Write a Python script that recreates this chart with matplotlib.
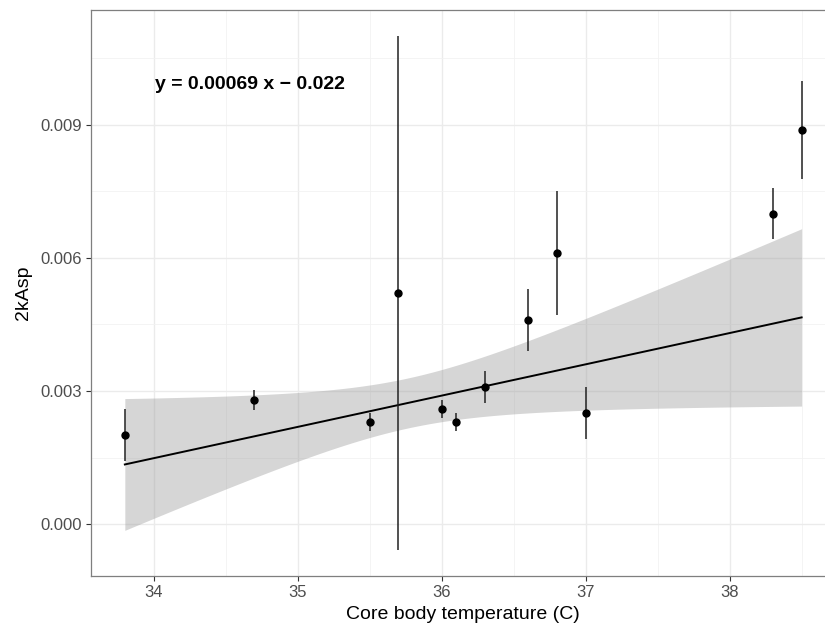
import numpy as np
import matplotlib
matplotlib.use("Agg")
import matplotlib.pyplot as plt
from matplotlib.ticker import MultipleLocator, FixedLocator

plt.rcParams['font.family'] = ['Liberation Sans', 'DejaVu Sans']

# Data
temperature = [33.8, 34.7, 35.5, 35.7, 36.0, 36.1, 36.3, 36.6, 36.8, 37.0, 38.3, 38.5]
k_asp = [0.00201, 0.00280, 0.00230, 0.00521, 0.00259, 0.00230, 0.00309, 0.00460, 0.00611, 0.00250, 0.00700, 0.00889]
k_err = [0.00058, 0.00022, 0.00020, 0.00580, 0.00020, 0.00020, 0.00036, 0.00070, 0.00140, 0.00058, 0.00058, 0.00110]
x_ticks = [34, 35, 36, 37, 38]
y_ticks = [0.000, 0.003, 0.006, 0.009]
y_tick_labels = ["0.000", "0.003", "0.006", "0.009"]
equation = "y = 0.00069 x \u2212 0.022"

x = np.array(temperature)
y = np.array(k_asp)
e = np.array(k_err)

# weighted linear regression (weights = 1/err^2), as geom_smooth(method='lm', weight=...)
w = 1.0 / e**2
xm = np.sum(w * x) / np.sum(w)
ym = np.sum(w * y) / np.sum(w)
sxx = np.sum(w * (x - xm)**2)
slope = np.sum(w * (x - xm) * (y - ym)) / sxx
intercept = ym - slope * xm
resid = y - (intercept + slope * x)
n = len(x)
sigma2 = np.sum(w * resid**2) / (n - 2)
tval = 2.228  # t(0.975, df=10)
xs = np.linspace(x.min(), x.max(), 200)
fit = intercept + slope * xs
se = np.sqrt(sigma2 * (1.0 / np.sum(w) + (xs - xm)**2 / sxx))
lo = fit - tval * se
hi = fit + tval * se
print(slope, intercept, xm)

fig = plt.figure(figsize=(8.25, 6.25), dpi=100)
ax = fig.add_axes([0.1103, 0.0784, 0.9024, 0.9056])

ax.fill_between(xs, lo, hi, color='#999999', alpha=0.4, linewidth=0, zorder=2)
ax.plot(xs, fit, color='black', linewidth=1.4, zorder=3)
ax.errorbar(x, y, yerr=e, fmt='o', color='black', ecolor='#222222', elinewidth=1.1,
            markersize=5, capsize=0, zorder=4)

ax.set_xlim(33.565, 38.735)
ax.set_ylim(-0.00117, 0.01159)

ax.xaxis.set_major_locator(FixedLocator(x_ticks))
ax.xaxis.set_minor_locator(MultipleLocator(0.5))
ax.set_yticks(y_ticks)
ax.set_yticklabels(y_tick_labels)
ax.yaxis.set_minor_locator(MultipleLocator(0.0015))

ax.set_axisbelow(True)
ax.grid(which='major', color='#ebebeb', linewidth=1.0)
ax.grid(which='minor', color='#f2f2f2', linewidth=0.6)
for sp in ax.spines.values():
    sp.set_color('#7f7f7f')
    sp.set_linewidth(0.9)

ax.tick_params(which='major', direction='out', length=3.5, width=0.8, color='#333333',
               labelsize=12, labelcolor='#4d4d4d', pad=3)
ax.tick_params(which='minor', length=0)

ax.set_xlabel("Core body temperature (C)", fontsize=14, color='black', labelpad=4)
ax.set_ylabel("2kAsp", fontsize=14, color='black', labelpad=6)

ax.text(34.01, 0.00992, equation, fontsize=14, fontweight='bold', ha='left', va='center',
        color='black', zorder=5)

fig.savefig("out.png", dpi=100)
